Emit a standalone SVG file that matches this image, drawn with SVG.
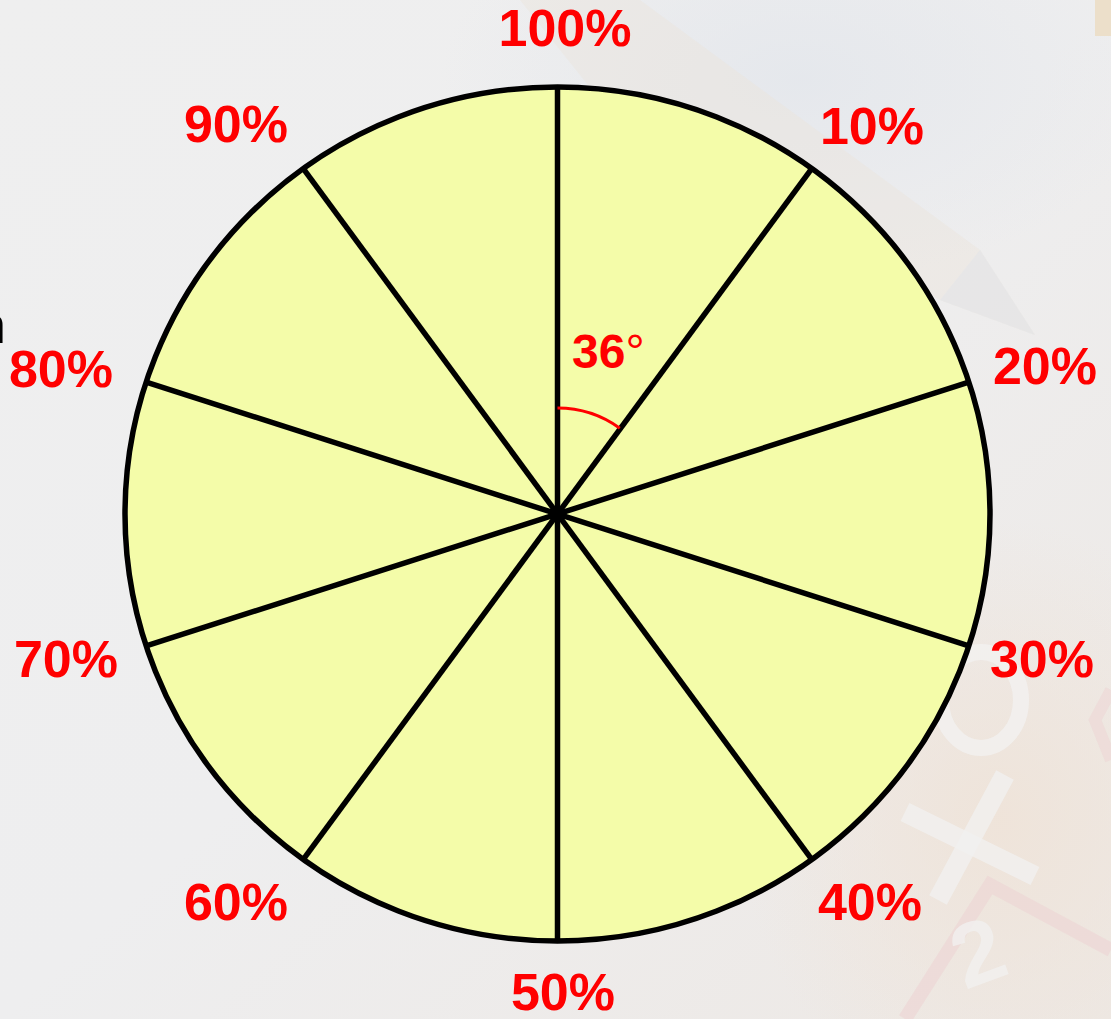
<svg xmlns="http://www.w3.org/2000/svg" width="1111" height="1019" viewBox="0 0 1111 1019">
  <defs>
    <style>
      .lbl { font-family: "Liberation Sans", Arial, sans-serif; font-weight: bold; font-size: 52px; fill: #ff0000; text-anchor: middle; }
      .spoke { stroke: #000; stroke-width: 5.5; stroke-linecap: butt; }
    </style>
    <linearGradient id="bg" x1="0" y1="0" x2="1" y2="1">
      <stop offset="0" stop-color="#efefef"/>
      <stop offset="0.5" stop-color="#eeeeef"/>
      <stop offset="1" stop-color="#ede8e4"/>
    </linearGradient>
    <radialGradient id="warm" cx="0.5" cy="0.5" r="0.5">
      <stop offset="0" stop-color="#efe3d8" stop-opacity="0.9"/>
      <stop offset="1" stop-color="#efe3d8" stop-opacity="0"/>
    </radialGradient>
    <radialGradient id="cool" cx="0.5" cy="0.5" r="0.5">
      <stop offset="0" stop-color="#e4e7ec" stop-opacity="0.9"/>
      <stop offset="1" stop-color="#e4e7ec" stop-opacity="0"/>
    </radialGradient>
  </defs>

  <!-- background -->
  <rect width="1111" height="1019" fill="url(#bg)"/>
  <ellipse cx="800" cy="80" rx="360" ry="200" fill="url(#cool)"/>
  <ellipse cx="1000" cy="820" rx="260" ry="300" fill="url(#warm)"/>
  <!-- faint pencil -->
  <polygon points="520,0 640,0 980,250 1035,335 940,300 600,100" fill="#ebe5dc" opacity="0.45"/>
  <polygon points="980,250 1035,335 940,300" fill="#e2e4e8" opacity="0.6"/>
  <rect x="1095" y="0" width="16" height="36" fill="#ecdfca"/>
  <!-- faint math decorations -->
  <path d="M905,1019 L990,885 L1111,950" fill="none" stroke="#edd3d4" stroke-width="14" opacity="0.6"/>
  <path d="M1111,760 L1095,720 L1111,690" fill="none" stroke="#edd3d4" stroke-width="12" opacity="0.5"/>
  <line x1="905" y1="812" x2="1035" y2="876" stroke="#f2f1f0" stroke-width="20" opacity="0.8"/>
  <line x1="1005" y1="775" x2="938" y2="900" stroke="#f2f1f0" stroke-width="20" opacity="0.8"/>
  <ellipse cx="981" cy="700" rx="40" ry="48" fill="none" stroke="#f2f1f0" stroke-width="16" opacity="0.8"/>
  <text x="965" y="990" font-family="Liberation Sans, sans-serif" font-weight="bold" font-size="90" fill="#f2f1f0" opacity="0.8" transform="rotate(-20 965 990)">2</text>

  <!-- cut-off letter at left edge, as in the reference -->
  <text x="-23" y="343" font-family="Liberation Sans, Arial, sans-serif" font-size="52" fill="#000">n</text>

  <g id="pie">
    <ellipse cx="557.5" cy="514" rx="432.5" ry="427" fill="#f4fca9" stroke="#000" stroke-width="5.5"/>
  </g>

  <g id="spokes">
    <line class="spoke" x1="557.5" y1="87" x2="557.5" y2="941"/>
    <line class="spoke" x1="811.7" y1="168.6" x2="303.3" y2="859.4"/>
    <line class="spoke" x1="968.8" y1="382.1" x2="146.2" y2="645.9"/>
    <line class="spoke" x1="968.8" y1="645.9" x2="146.2" y2="382.1"/>
    <line class="spoke" x1="811.7" y1="859.4" x2="303.3" y2="168.6"/>
  </g>

  <g id="angle">
    <path d="M557.5,408 A106,106 0 0 1 619.8,428.2" fill="none" stroke="#ff0000" stroke-width="3"/>
    <text x="572" y="368" font-family="Liberation Sans, Arial, sans-serif" font-weight="bold" font-size="48" fill="#ff0000">36<tspan font-weight="normal">°</tspan></text>
  </g>

  <g id="labels">
    <text class="lbl" x="565" y="46">100%</text>
    <text class="lbl" x="872" y="144">10%</text>
    <text class="lbl" x="1045" y="384">20%</text>
    <text class="lbl" x="1042" y="677">30%</text>
    <text class="lbl" x="870" y="920">40%</text>
    <text class="lbl" x="563" y="1010">50%</text>
    <text class="lbl" x="236" y="920">60%</text>
    <text class="lbl" x="66" y="677">70%</text>
    <text class="lbl" x="61" y="387">80%</text>
    <text class="lbl" x="236" y="142">90%</text>
  </g>
</svg>
